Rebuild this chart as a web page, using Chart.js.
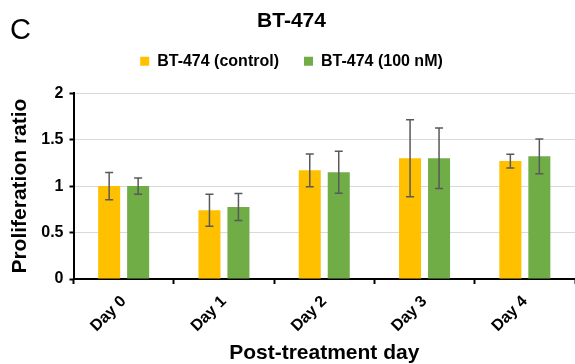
<!DOCTYPE html>
<html>
<head>
<meta charset="utf-8">
<title>BT-474 proliferation</title>
<script src="https://cdn.jsdelivr.net/npm/chart.js@4.4.1/dist/chart.umd.min.js"></script>
<style>
  html, body { margin: 0; padding: 0; background: #ffffff; }
  canvas { display: block; }
</style>
</head>
<body>
<canvas id="chart" width="575" height="364"></canvas>
<script>
// Proliferation ratio (mean and SD) per post-treatment day
const days = ['Day 0', 'Day 1', 'Day 2', 'Day 3', 'Day 4'];
const seriesNames = ['BT-474 (control)', 'BT-474 (100 nM)'];
const controlRatio = [1.00, 0.74, 1.17, 1.30, 1.27];
const controlSD = [0.147, 0.172, 0.176, 0.414, 0.074];
const treatedRatio = [1.00, 0.775, 1.15, 1.30, 1.32];
const treatedSD = [0.088, 0.146, 0.226, 0.326, 0.188];
const yTicks = [0, 0.5, 1, 1.5, 2];

const FONT = '"Liberation Sans", Arial, Helvetica, sans-serif';
Chart.defaults.font.family = FONT;
Chart.defaults.color = '#000000';

// Symmetric error bars (mean ± SD) drawn through the value scale
const errorBars = {
  id: 'errorBars',
  afterDatasetsDraw(chart) {
    const { ctx } = chart;
    const yScale = chart.scales.y;
    chart.data.datasets.forEach((ds, di) => {
      const meta = chart.getDatasetMeta(di);
      if (meta.hidden) return;
      meta.data.forEach((bar, i) => {
        const v = ds.data[i];
        const e = ds.errors[i];
        const yHi = yScale.getPixelForValue(v + e);
        const yLo = yScale.getPixelForValue(v - e);
        const x = bar.x;
        ctx.save();
        ctx.strokeStyle = '#595959';
        ctx.lineWidth = 1.5;
        ctx.beginPath();
        ctx.moveTo(x, yHi); ctx.lineTo(x, yLo);
        ctx.moveTo(x - 4, yHi); ctx.lineTo(x + 4, yHi);
        ctx.moveTo(x - 4, yLo); ctx.lineTo(x + 4, yLo);
        ctx.stroke();
        ctx.restore();
      });
    });
  }
};

// Panel letter in the top-left corner
const panelLetter = {
  id: 'panelLetter',
  afterDraw(chart) {
    const { ctx } = chart;
    ctx.save();
    ctx.font = '29px ' + FONT;
    ctx.fillStyle = '#000000';
    ctx.textBaseline = 'alphabetic';
    ctx.textAlign = 'left';
    ctx.fillText('C', 10, 39);
    ctx.restore();
  }
};

new Chart(document.getElementById('chart'), {
  type: 'bar',
  data: {
    labels: days,
    datasets: [
      {
        label: seriesNames[0],
        data: controlRatio,
        errors: controlSD,
        backgroundColor: '#FFC000',
        borderWidth: 0
      },
      {
        label: seriesNames[1],
        data: treatedRatio,
        errors: treatedSD,
        backgroundColor: '#70AD47',
        borderWidth: 0
      }
    ]
  },
  options: {
    responsive: false,
    animation: false,
    devicePixelRatio: 1,
    categoryPercentage: 0.578,
    barPercentage: 0.76,
    layout: { padding: { top: 0, left: 6, right: -2, bottom: 0 } },
    plugins: {
      title: {
        display: true,
        text: 'BT-474',
        color: '#000000',
        font: { size: 21, weight: 'bold' },
        padding: { top: 9, bottom: -6 }
      },
      legend: {
        display: true,
        position: 'top',
        labels: {
          color: '#000000',
          font: { size: 16, weight: 'bold' },
          boxWidth: 9,
          boxHeight: 9,
          padding: 25
        }
      },
      subtitle: {
        display: true,
        text: '',
        weight: 500,
        font: { size: 14, lineHeight: 1 },
        padding: 0
      },
      tooltip: { enabled: false }
    },
    scales: {
      x: {
        type: 'category',
        offset: true,
        afterFit(scale) { scale.height = 85; },
        grid: {
          display: true,
          offset: true,
          drawOnChartArea: false,
          drawTicks: true,
          tickLength: 5,
          tickWidth: 2,
          tickColor: '#000000'
        },
        border: { display: true, color: '#000000', width: 2 },
        ticks: {
          color: '#000000',
          font: { size: 16, weight: 'bold' },
          minRotation: 45,
          maxRotation: 45,
          padding: 8,
          autoSkip: false
        },
        title: {
          display: true,
          text: 'Post-treatment day',
          color: '#000000',
          font: { size: 21, weight: 'bold', lineHeight: 1 },
          padding: 0
        }
      },
      y: {
        min: 0,
        max: 2,
        afterFit(scale) { scale.width = 67.5; },
        afterBuildTicks(scale) { scale.ticks = yTicks.map(v => ({ value: v })); },
        grid: {
          color: '#d9d9d9',
          lineWidth: 1,
          drawTicks: true,
          tickLength: 4,
          tickWidth: 2,
          tickColor: '#000000'
        },
        border: { display: true, color: '#000000', width: 2 },
        ticks: {
          color: '#000000',
          font: { size: 16, weight: 'bold' },
          padding: 6,
          callback: v => String(v)
        },
        title: {
          display: true,
          text: 'Proliferation ratio',
          color: '#000000',
          font: { size: 21, weight: 'bold' },
          padding: { top: 2, bottom: 0 }
        }
      }
    }
  },
  plugins: [errorBars, panelLetter]
});
</script>
</body>
</html>
